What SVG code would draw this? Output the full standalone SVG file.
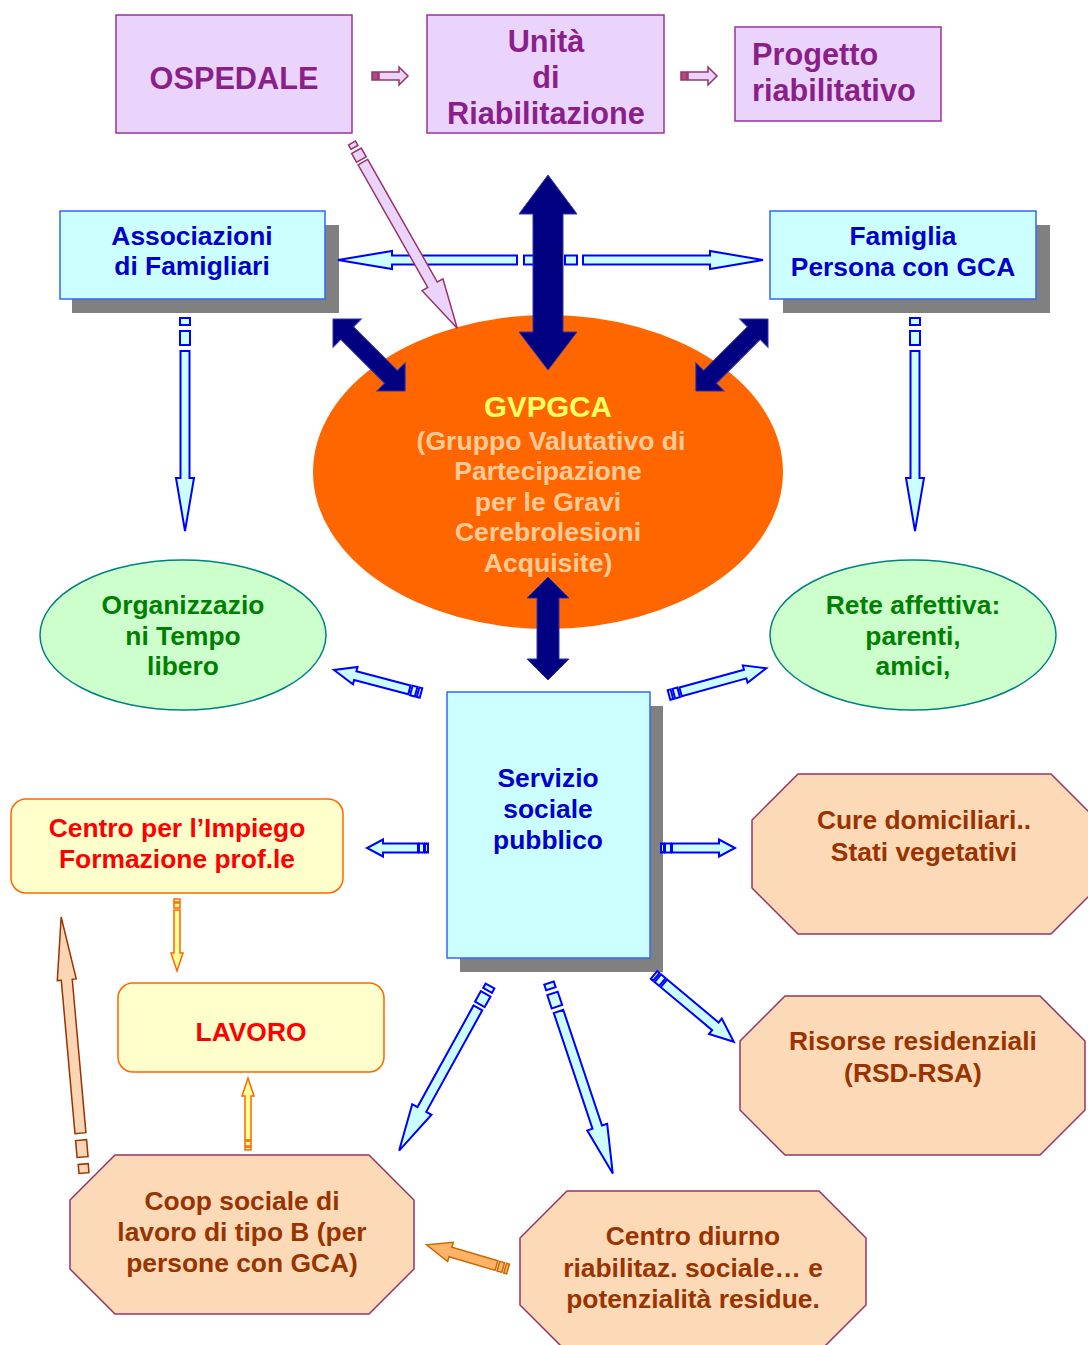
<svg xmlns="http://www.w3.org/2000/svg" width="1088" height="1345" viewBox="0 0 1088 1345">
<style>
text{font-family:"Liberation Sans",Arial,sans-serif;font-weight:bold;text-anchor:middle}
.pbox{fill:#ebd4fb;stroke:#993399;stroke-width:1.5}
.ptxt{fill:#8a1f8a;font-size:30.7px}
.bbox{fill:#ccffff;stroke:#3366ff;stroke-width:1.5}
.btxt{fill:#0000cc;font-size:26.4px}
.shadow{fill:#808080}
.gell{fill:#ccffcc;stroke:#008080;stroke-width:1.5}
.gtxt{fill:#008000;font-size:26.4px}
.ybox{fill:#ffffcc;stroke:#ff6600;stroke-width:1.5}
.rtxt{fill:#ff0000;font-size:26.4px}
.oct{fill:#fddab7;stroke:#993366;stroke-width:1.5}
.otxt{fill:#993300;font-size:26.4px}
.pa{fill:#ebd4fb;stroke:#993366;stroke-width:1.5}
.ba{fill:#ccffff;stroke:#0000ff;stroke-width:2}
.oa{fill:#ffff99;stroke:#ff6600;stroke-width:1.5}
.pea{fill:#fcd5b4;stroke:#993300;stroke-width:1.5}
.loa{fill:#ffb366;stroke:#cc6600;stroke-width:1.5}
.nv{fill:#000080;stroke:#3333aa;stroke-width:1}
</style>

<g id="ospedale">
<rect class="pbox" x="116" y="15" width="236" height="118"/>
<text class="ptxt" x="234" y="89">OSPEDALE</text>
</g>
<g id="unita">
<rect class="pbox" x="427" y="15" width="237" height="118"/>
<text class="ptxt" x="546" y="52">Unità</text>
<text class="ptxt" x="546" y="88">di</text>
<text class="ptxt" x="546" y="124">Riabilitazione</text>
</g>
<g id="progetto">
<rect class="pbox" x="735" y="27" width="206" height="94"/>
<text class="ptxt" x="752" y="65" style="text-anchor:start">Progetto</text>
<text class="ptxt" x="752" y="101" style="text-anchor:start">riabilitativo</text>
</g>

<g id="associazioni">
<rect class="shadow" x="72" y="225" width="267" height="88"/>
<rect class="bbox" x="60" y="211" width="265" height="88"/>
<text class="btxt" x="192" y="245">Associazioni</text>
<text class="btxt" x="192" y="275">di Famigliari</text>
</g>
<g id="famiglia">
<rect class="shadow" x="783" y="225" width="267" height="88"/>
<rect class="bbox" x="770" y="211" width="266" height="88"/>
<text class="btxt" x="903" y="245">Famiglia</text>
<text class="btxt" x="903" y="276">Persona con GCA</text>
</g>

<g id="gvpgca">
<ellipse cx="548" cy="472" rx="235" ry="157" fill="#ff6600"/>
<text x="548" y="417" style="fill:#ffff66;font-size:29.5px">GVPGCA</text>
<text x="551" y="450" style="fill:#ffcc99;font-size:26.6px">(Gruppo Valutativo di</text>
<text x="548" y="480" style="fill:#ffcc99;font-size:26.6px">Partecipazione</text>
<text x="548" y="511" style="fill:#ffcc99;font-size:26.6px">per le Gravi</text>
<text x="548" y="541" style="fill:#ffcc99;font-size:26.6px">Cerebrolesioni</text>
<text x="548" y="572" style="fill:#ffcc99;font-size:26.6px">Acquisite)</text>
</g>

<g id="organizzazioni">
<ellipse class="gell" cx="183" cy="635" rx="143" ry="75"/>
<text class="gtxt" x="183" y="614">Organizzazio</text>
<text class="gtxt" x="183" y="645">ni Tempo</text>
<text class="gtxt" x="183" y="675">libero</text>
</g>
<g id="rete">
<ellipse class="gell" cx="913" cy="635" rx="143" ry="75"/>
<text class="gtxt" x="913" y="614">Rete affettiva:</text>
<text class="gtxt" x="913" y="645">parenti,</text>
<text class="gtxt" x="913" y="675">amici,</text>
</g>

<g id="servizio">
<rect class="shadow" x="460" y="706" width="203" height="266"/>
<rect class="bbox" x="447" y="692" width="203" height="266"/>
<text class="btxt" x="548" y="787">Servizio</text>
<text class="btxt" x="548" y="818">sociale</text>
<text class="btxt" x="548" y="849">pubblico</text>
</g>

<g id="impiego">
<rect class="ybox" x="11" y="799" width="332" height="94" rx="15"/>
<text class="rtxt" x="177" y="837">Centro per l’Impiego</text>
<text class="rtxt" x="177" y="868">Formazione prof.le</text>
</g>
<g id="lavoro">
<rect class="ybox" x="118" y="983" width="266" height="89" rx="15"/>
<text class="rtxt" x="251" y="1041">LAVORO</text>
</g>

<g id="cure">
<polygon class="oct" points="798,774 1051,774 1097,820 1097,888 1051,934 798,934 752,888 752,820"/>
<text class="otxt" x="924" y="829">Cure domiciliari..</text>
<text class="otxt" x="924" y="861">Stati vegetativi</text>
</g>
<g id="risorse">
<polygon class="oct" points="785,996 1040,996 1085,1041 1085,1110 1040,1155 785,1155 740,1110 740,1041"/>
<text class="otxt" x="913" y="1050">Risorse residenziali</text>
<text class="otxt" x="913" y="1082">(RSD-RSA)</text>
</g>
<g id="coop">
<polygon class="oct" points="115,1155 369,1155 414,1200 414,1269 369,1314 115,1314 70,1269 70,1200"/>
<text class="otxt" x="242" y="1210">Coop sociale di</text>
<text class="otxt" x="242" y="1241">lavoro di tipo B (per</text>
<text class="otxt" x="242" y="1272">persone con GCA)</text>
</g>
<g id="diurno">
<polygon class="oct" points="567,1191 819,1191 866,1238 866,1305 819,1352 567,1352 520,1305 520,1238"/>
<text class="otxt" x="693" y="1245">Centro diurno</text>
<text class="otxt" x="693" y="1277">riabilitaz. sociale… e</text>
<text class="otxt" x="693" y="1308">potenzialità residue.</text>
</g>

<g id="connectors">
<g class="pa" transform="translate(372,76)"><rect x="0" y="-4" width="6" height="8" fill="#b04b87"/><polygon points="7,-4 27,-4 27,-9 36,0 27,9 27,4 7,4"/></g>
<g class="pa" transform="translate(681,76)"><rect x="0" y="-4" width="6" height="8" fill="#b04b87"/><polygon points="7,-4 27,-4 27,-9 36,0 27,9 27,4 7,4"/></g>
<g class="ba" transform="translate(545,260) rotate(180)"><rect x="3" y="-4.5" width="4" height="9"/><rect x="11" y="-4.5" width="10" height="9"/><polygon points="28,-4.5 153,-4.5 153,-9 207,0 153,9 153,4.5 28,4.5"/></g>
<g class="ba" transform="translate(552,260)"><rect x="3" y="-4.5" width="4" height="9"/><rect x="13" y="-4.5" width="12" height="9"/><polygon points="31,-4.5 158,-4.5 158,-9 211,0 158,9 158,4.5 31,4.5"/></g>
<g class="pa" transform="translate(352,143) rotate(60.4)"><rect x="0" y="-4" width="5" height="8"/><rect x="9" y="-5.5" width="10" height="11"/><polygon points="22,-5.5 163,-5.5 163,-12 213,0 163,12 163,5.5 22,5.5"/></g>
<g class="ba" transform="translate(185,318) rotate(90)"><rect x="0" y="-5" width="7" height="10"/><rect x="13" y="-5" width="14" height="10"/><polygon points="33,-4.5 160,-4.5 160,-9 213,0 160,9 160,4.5 33,4.5"/></g>
<g class="ba" transform="translate(915,318) rotate(90)"><rect x="0" y="-5" width="7" height="10"/><rect x="13" y="-5" width="14" height="10"/><polygon points="33,-4.5 160,-4.5 160,-9 213,0 160,9 160,4.5 33,4.5"/></g>
<polygon class="nv" points="548,175 577,214 563,214 563,332 577,332 548,370 519,332 533,332 533,214 519,214"/>
<g class="nv" transform="translate(333,319) rotate(45)"><polygon points="0,0 20,-20 20,-9 82,-9 82,-20 102,0 82,20 82,9 20,9 20,20"/></g>
<g class="nv" transform="translate(768,319) rotate(135)"><polygon points="0,0 20,-20 20,-9 82,-9 82,-20 102,0 82,20 82,9 20,9 20,20"/></g>
<polygon class="nv" points="548,577 569,598 559,598 559,659 569,659 548,680 527,659 537,659 537,598 527,598"/>
<g class="ba" transform="translate(421,693) rotate(194.8)"><rect x="0" y="-5" width="3" height="10"/><rect x="5" y="-5" width="5" height="10"/><polygon points="12,-4.5 68,-4.5 68,-9 90,0 68,9 68,4.5 12,4.5"/></g>
<g class="ba" transform="translate(669,695) rotate(-15.4)"><rect x="0" y="-5" width="3" height="10"/><rect x="5" y="-5" width="5" height="10"/><polygon points="12,-4.5 79,-4.5 79,-9 101,0 79,9 79,4.5 12,4.5"/></g>
<g class="ba" transform="translate(428,848) rotate(180)"><rect x="0" y="-4.5" width="3" height="9"/><rect x="4" y="-4.5" width="5" height="9"/><polygon points="10,-4.5 45,-4.5 45,-8.5 61,0 45,8.5 45,4.5 10,4.5"/></g>
<g class="ba" transform="translate(661,848)"><rect x="0" y="-4.5" width="3" height="9"/><rect x="4" y="-4.5" width="6" height="9"/><polygon points="11,-4.5 58,-4.5 58,-8.5 74,0 58,8.5 58,4.5 11,4.5"/></g>
<g class="ba" transform="translate(490,986) rotate(118.9)"><rect x="0" y="-5" width="5" height="10"/><rect x="9" y="-5.5" width="12" height="11"/><polygon points="25,-5 141,-5 141,-11 188,0 141,11 141,5 25,5"/></g>
<g class="ba" transform="translate(549,983) rotate(71.5)"><rect x="0" y="-5" width="6" height="10"/><rect x="11" y="-5.5" width="14" height="11"/><polygon points="30,-5 152,-5 152,-10.5 201,0 152,10.5 152,5 30,5"/></g>
<g class="ba" transform="translate(654,975) rotate(39.9)"><rect x="0" y="-5" width="3" height="10"/><rect x="5" y="-5" width="6" height="10"/><polygon points="13,-5 80,-5 80,-10 104,0 80,10 80,5 13,5"/></g>
<g class="oa" transform="translate(177,899) rotate(90)"><rect x="0" y="-3" width="3" height="6"/><rect x="4" y="-3" width="5" height="6"/><polygon points="11,-3 54,-3 54,-6 72,0 54,6 54,3 11,3"/></g>
<g class="oa" transform="translate(248,1150) rotate(-90)"><rect x="0" y="-3" width="3" height="6"/><rect x="4" y="-3" width="5" height="6"/><polygon points="10,-3 54,-3 54,-6 72,0 54,6 54,3 10,3"/></g>
<g class="pea" transform="translate(84,1173) rotate(-95.1)"><rect x="0" y="-5" width="9" height="10"/><rect x="16" y="-5.5" width="17" height="11"/><polygon points="40,-5.5 194,-5.5 194,-9.5 257,0 194,9.5 194,5.5 40,5.5"/></g>
<g class="loa" transform="translate(508,1269) rotate(196.5)"><rect x="0" y="-5" width="3" height="10"/><rect x="5" y="-5" width="5" height="10"/><polygon points="12,-5 60,-5 60,-10 85,0 60,10 60,5 12,5"/></g>
</g>
</svg>
